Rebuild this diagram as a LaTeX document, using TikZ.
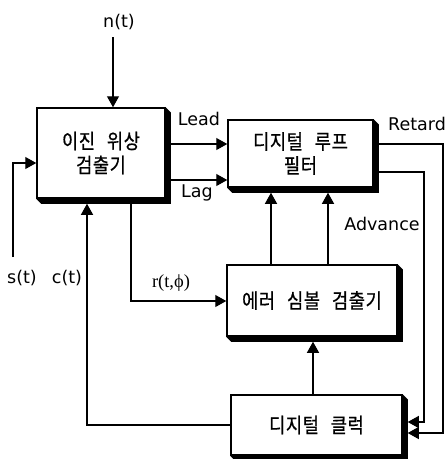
\documentclass[tikz,border=0pt]{standalone}
\usepackage{fontspec}
\setmainfont{DejaVu Sans}
\newfontfamily\kr[LetterSpace=3,FakeBold=0.6,FakeStretch=0.86,WordSpace=2.6]{Noto Sans CJK KR}
\newfontfamily\rmserif{Liberation Serif}
\usetikzlibrary{arrows.meta,calc}
\begin{document}
\begin{tikzpicture}[x=1pt,y=-1pt,
  blk/.style={draw,line width=1.5pt,fill=white,inner sep=0pt,align=center,
    font=\kr\fontsize{20.5}{24}\selectfont},
  conn/.style={line width=1.2pt},
  arr/.style={conn,-{Triangle[length=11pt,width=12pt]}},
  lbl/.style={font=\fontsize{17.5}{18}\selectfont,inner sep=0pt}]
\useasboundingbox (0,0) rectangle (446,459);
\newcommand{\shadowof}[1]{%
  \fill[black] (#1.north east) -- ++(5,5) -- ($(#1.south east)+(5,5)$)
    -- ($(#1.south west)+(5,5)$) -- (#1.south west) -- (#1.south east) -- cycle;}
% boxes
\node[blk,minimum width=128pt,minimum height=90pt] (b1) at (101,153) {이진 위상\\검출기};
\node[blk,minimum width=145pt,minimum height=67pt] (b2) at (300.5,153.5) {디지털 루프\\필터};
\node[blk,minimum width=170pt,minimum height=71pt] (b3) at (312,300.5) {에러 심볼 검출기};
\node[blk,minimum width=171pt,minimum height=60pt] (b4) at (316.5,425) {디지털 클럭};
\shadowof{b1}\shadowof{b2}\shadowof{b3}\shadowof{b4}
% labels
\node[lbl] (ln) at (119,22) {n(t)};
\node[lbl] (llead) at (199,119) {Lead};
\node[lbl] (llag) at (197,193) {Lag};
\node[lbl] (lret) at (417,124) {Retard};
\node[lbl] (ladv) at (382,224) {Advance};
\node[lbl] (ls) at (22,278) {s(t)};
\node[lbl] (lc) at (67,278) {c(t)};
\node[lbl,font=\rmserif\fontsize{18.5}{20}\selectfont] (lr) at (171,283) {r(t,ϕ)};
% free ends
\coordinate (nstart) at (113,37);
\coordinate (sstart) at (13,257);
% connectors
\draw[arr] (nstart) -- (b1.north -| nstart);
\draw[arr] (sstart) -- (13,163) -- (b1.west |- 0,163);
\draw[arr] (b1.east |- 0,144) -- (b2.west |- 0,144);
\draw[arr] (b1.east |- 0,180) -- (b2.west |- 0,180);
\draw[arr] (b4.west |- 0,425) -- (87,425) -- ($(b1.south -| 87,0)+(0,5)$);
\draw[arr] (b1.south -| 131,0) -- (131,301) -- (b3.west |- 0,301);
\draw[arr] (b3.north -| 271,0) -- ($(b2.south -| 271,0)+(0,5)$);
\draw[arr] (b3.north -| 328,0) -- ($(b2.south -| 328,0)+(0,5)$);
\draw[arr] (b4.north -| 313,0) -- ($(b3.south -| 313,0)+(0,5)$);
\draw[arr] (b2.east |- 0,144) -- (443,144) -- (443,433) -- ($(b4.east |- 0,433)+(5,0)$);
\draw[arr] (b2.east |- 0,172) -- (424,172) -- (424,422) -- ($(b4.east |- 0,422)+(5,0)$);
\end{tikzpicture}
\end{document}
